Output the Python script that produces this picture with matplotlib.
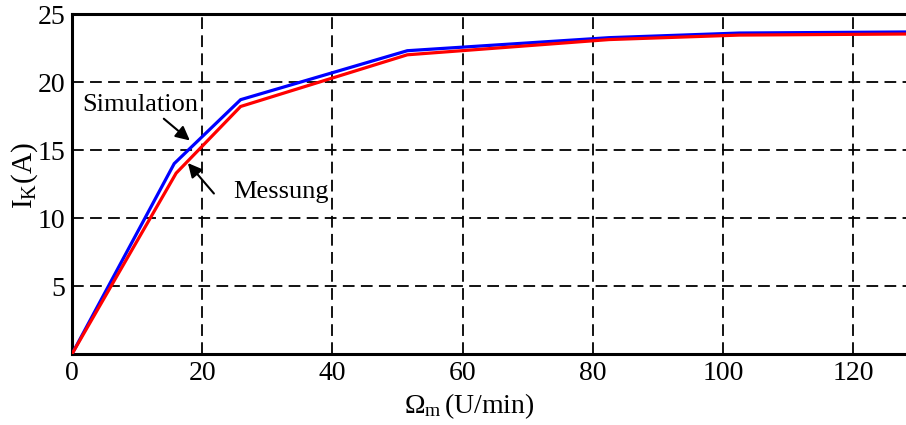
import matplotlib
matplotlib.use("Agg")
import matplotlib.pyplot as plt

# Data
omega_sim = [0, 15.7, 25.9, 51.5, 82.5, 102.5, 128.5]
ik_sim = [0, 14.0, 18.7, 22.3, 23.26, 23.6, 23.68]
omega_mes = [0, 16.0, 25.9, 51.5, 82.5, 102.5, 128.5]
ik_mes = [0, 13.3, 18.2, 22.0, 23.12, 23.45, 23.53]
xticks = [0, 20, 40, 60, 80, 100, 120]
yticks = [5, 10, 15, 20, 25]

plt.rcParams['font.family'] = ['Liberation Serif', 'DejaVu Serif']
plt.rcParams['mathtext.fontset'] = 'custom'
plt.rcParams['mathtext.rm'] = 'Liberation Serif'
plt.rcParams['mathtext.it'] = 'Liberation Serif'

W, H = 906, 425
fig = plt.figure(figsize=(W / 100, H / 100), dpi=100)
ax = fig.add_axes([72 / W, 71 / H, 834 / W, 340 / H])

ax.set_xlim(0, 128.1)
ax.set_ylim(0, 25)

for x in xticks[1:]:
    ax.axvline(x, color='black', lw=1.3, dashes=(6.5, 3.5), zorder=1)
for y in yticks[:-1]:
    ax.axhline(y, color='black', lw=1.3, dashes=(6.5, 3.5), zorder=1)

ax.plot(omega_sim, ik_sim, color='#0000ff', lw=2.3, zorder=3, solid_joinstyle='miter')
ax.plot(omega_mes, ik_mes, color='#ff0000', lw=2.3, zorder=4, solid_joinstyle='miter')

ax.set_xticks(xticks)
ax.set_yticks([0] + yticks)
ax.set_yticklabels([''] + [str(v) for v in yticks])
ax.tick_params(length=0, labelsize=20, pad=5)

for s in ['left', 'bottom', 'top']:
    ax.spines[s].set_linewidth(2.2)
ax.spines['right'].set_visible(False)

fig.text(469 / W, 1 - 413 / H, r'$\Omega_{\mathrm{m}}\,$(U/min)', fontsize=20,
         ha='center', va='baseline')
fig.text(25 / W, 1 - 176 / H, r'I$_{\mathrm{K}}$(A)', fontsize=21,
         ha='center', va='center', rotation=90)

arrow = dict(arrowstyle='-|>', color='black', lw=1.5, mutation_scale=21,
             shrinkA=0, shrinkB=0)
ax.text(1.54, 17.87, 'Simulation', fontsize=19, ha='left', va='baseline')
ax.annotate('', xy=(18.1, 15.7), xytext=(14.1, 17.3), arrowprops=arrow)
ax.text(24.7, 11.47, 'Messung', fontsize=19, ha='left', va='baseline')
ax.annotate('', xy=(17.8, 14.04), xytext=(21.8, 11.8), arrowprops=arrow)

fig.savefig('out.png', dpi=100)
